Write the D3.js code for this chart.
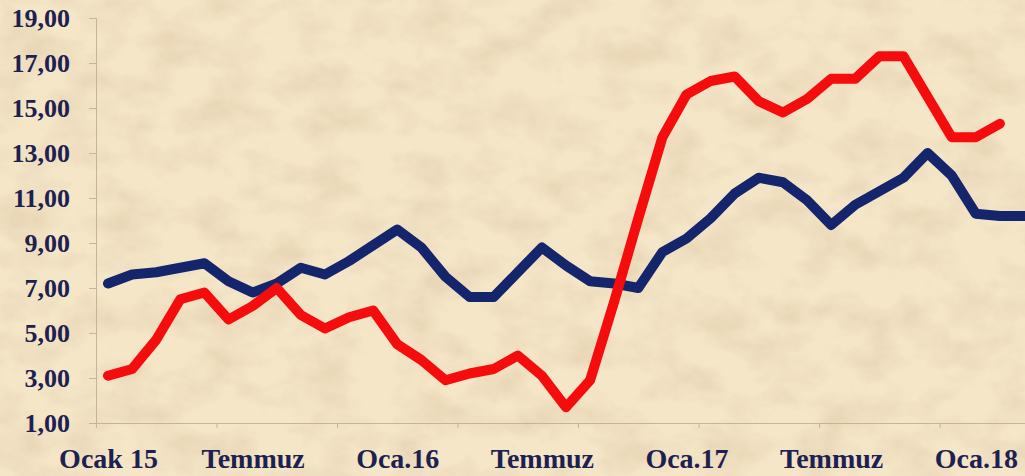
<!DOCTYPE html>
<html lang="tr">
  <head>
    <meta charset="utf-8">
    <title>Line Chart</title>
    <style type="text/css">
      body{
        margin: 0;
        padding: 0;
        background-color: #efdfbd;
      }
      svg{
        display: block;
      }
      .axis text{
        font-family: "Liberation Serif", "Times New Roman", serif;
        font-weight: bold;
        font-size: 26px;
        fill: #1c2152;
      }
      #x-axis text{
        font-size: 28px;
      }
      .axis path, .axis line{
        stroke: #c2b59a;
      }
    </style>
  </head>
  <body>
    <div id='svg_container'></div>

    <script src="https://d3js.org/d3.v7.min.js"></script>
    <script type="text/javascript">

      // monthly, Ocak 2015 .. Mart 2018
      const months = ['2015-01','2015-02','2015-03','2015-04','2015-05','2015-06','2015-07','2015-08','2015-09','2015-10','2015-11','2015-12',
                      '2016-01','2016-02','2016-03','2016-04','2016-05','2016-06','2016-07','2016-08','2016-09','2016-10','2016-11','2016-12',
                      '2017-01','2017-02','2017-03','2017-04','2017-05','2017-06','2017-07','2017-08','2017-09','2017-10','2017-11','2017-12',
                      '2018-01','2018-02','2018-03'];

      const blueValues = [7.2, 7.6, 7.7, 7.9, 8.1, 7.3, 6.8, 7.2, 7.9, 7.6, 8.2, 8.9,
                          9.6, 8.8, 7.5, 6.6, 6.6, 7.7, 8.8, 8.0, 7.3, 7.2, 7.0, 8.6,
                          9.2, 10.1, 11.2, 11.9, 11.7, 10.9, 9.8, 10.7, 11.3, 11.9, 13.0, 12.0,
                          10.3, 10.2, 10.2];

      const redValues = [3.1, 3.4, 4.7, 6.5, 6.8, 5.6, 6.2, 7.0, 5.8, 5.2, 5.7, 6.0,
                         4.5, 3.8, 2.9, 3.2, 3.4, 4.0, 3.1, 1.7, 2.9, 6.4, 10.1, 13.7,
                         15.6, 16.2, 16.4, 15.3, 14.8, 15.4, 16.3, 16.3, 17.3, 17.3, 15.5, 13.7,
                         13.7, 14.3];

      const xTickIdx = [0, 6, 12, 18, 24, 30, 36];
      const xTickLabels = ['Ocak 15', 'Temmuz', 'Oca.16', 'Temmuz', 'Oca.17', 'Temmuz', 'Oca.18'];
      const yTicks = [1, 3, 5, 7, 9, 11, 13, 15, 17, 19];

      const w = 1025;
      const h = 476;

      const blueColor = '#14256b';
      const redColor = '#f50d0d';

      const trLocale = d3.formatLocale({decimal: ',', thousands: '.', grouping: [3], currency: ['', ' TL']});
      const fmt = trLocale.format('.2f');

      document.addEventListener('DOMContentLoaded', function() {

        var svg = d3.select('#svg_container').append('svg').attr('width', w).attr('height', h);

        // parchment look: tan base + blotchy noise
        var defs = svg.append('defs');
        var f = defs.append('filter').attr('id','paper').attr('x',0).attr('y',0).attr('width','100%').attr('height','100%');
        f.append('feTurbulence').attr('type','fractalNoise').attr('baseFrequency','0.02 0.03').attr('numOctaves',4).attr('seed',3).attr('result','n');
        f.append('feColorMatrix').attr('in','n').attr('type','matrix')
          .attr('values','0 0 0 0 0.76  0 0 0 0 0.62  0 0 0 0 0.42  2.4 0 0 0 -0.95');

        svg.append('rect').attr('width', w).attr('height', h).attr('fill', '#f5e6c8');
        svg.append('rect').attr('width', w).attr('height', h).attr('filter','url(#paper)').attr('opacity', 0.6);

        var scaleX = d3.scaleLinear().domain([0, months.length - 1]).range([108, 1024]);
        var scaleY = d3.scaleLinear().domain([1, 19]).range([423, 18]);

        var yAxis = d3.axisLeft(scaleY).tickValues(yTicks).tickFormat(fmt).tickSize(7).tickPadding(19);
        svg.append('g').attr('class','axis').attr('transform','translate(96,0)').call(yAxis);

        var xMarks = d3.range(-0.5, months.length, 5);
        var xAxisMarks = d3.axisBottom(scaleX).tickValues(xMarks).tickFormat('').tickSize(5).tickSizeOuter(0);
        svg.append('g').attr('class','axis').attr('transform','translate(0,423)').call(xAxisMarks)
          .select('.domain').attr('d', 'M96,0.5H1025');

        var xAxis = d3.axisBottom(scaleX).tickValues(xTickIdx).tickFormat((d,i) => xTickLabels[i]).tickSize(0).tickPadding(25);
        var gx = svg.append('g').attr('class','axis').attr('id','x-axis').attr('transform','translate(0,423)').call(xAxis);
        gx.select('.domain').remove();

        var line = d3.line().x((d,i) => scaleX(i)).y(d => scaleY(d));

        svg.append('path').datum(blueValues).attr('d', line)
          .attr('fill','none').attr('stroke', blueColor).attr('stroke-width', 10)
          .attr('stroke-linejoin','round').attr('stroke-linecap','round');

        svg.append('path').datum(redValues).attr('d', line)
          .attr('fill','none').attr('stroke', redColor).attr('stroke-width', 10)
          .attr('stroke-linejoin','round').attr('stroke-linecap','round');

      });
    </script>
  </body>
</html>
